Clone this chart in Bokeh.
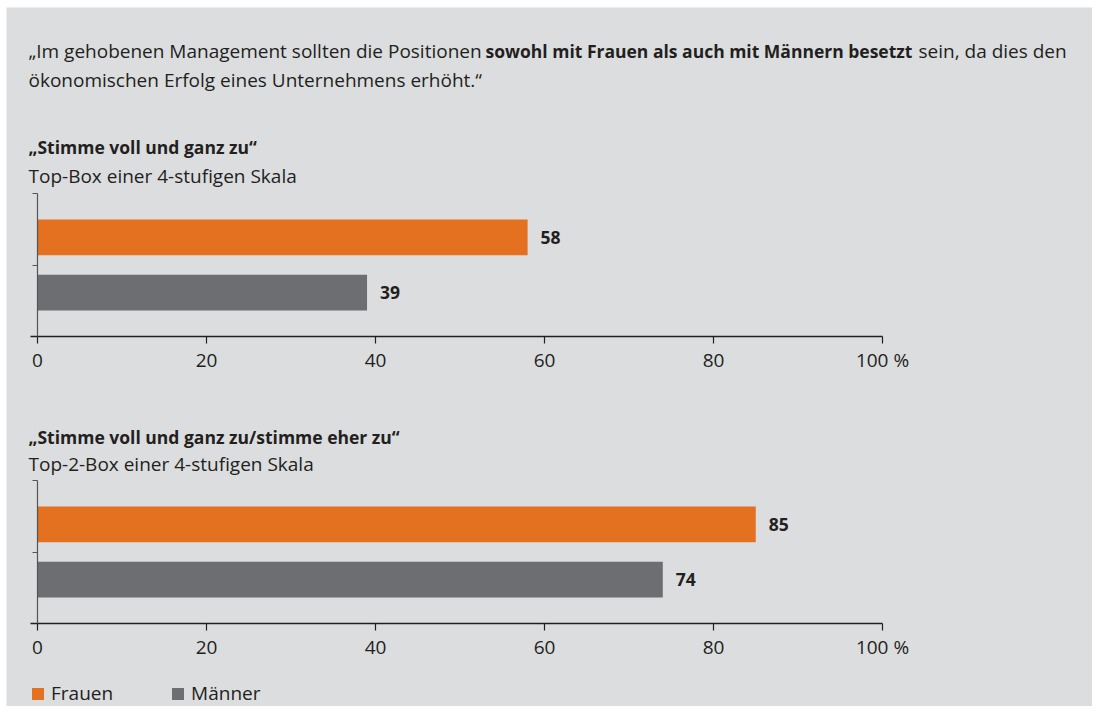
from bokeh.plotting import figure
from bokeh.models import Range1d, FixedTicker, ColumnDataSource, Legend, LegendItem, LinearAxis
from bokeh.core.properties import value
from bokeh.embed import file_html
from bokeh.resources import INLINE

# ---------------- data ----------------
intro_part1 = "„Im gehobenen Management sollten die Positionen"
intro_bold = "sowohl mit Frauen als auch mit Männern besetzt"
intro_part2 = "sein, da dies den"
intro_line2 = "ökonomischen Erfolg eines Unternehmens erhöht.“"

title1 = "„Stimme voll und ganz zu“"
subtitle1 = "Top-Box einer 4-stufigen Skala"
title2 = "„Stimme voll und ganz zu/stimme eher zu“"
subtitle2 = "Top-2-Box einer 4-stufigen Skala"

groups = ["Frauen", "Männer"]
top_box = [58, 39]
top2_box = [85, 74]
tick_values = [0, 20, 40, 60, 80, 100]
tick_labels = ["0", "20", "40", "60", "80", "100 %"]

# ---------------- style / layout ----------------
W, H = 1092, 706
PANEL_L, PANEL_T = 6, 7
BG = "#dcdddf"
TXT = "#231f20"
COLORS = ["#e3711f", "#6d6e71"]
FONT = "Open Sans"
FS_N = "19px"
FS_B = "17.5px"

PX_X = 8.45     # pixels per percent
PX_Y = 71.5     # pixels per category unit
X0 = 37         # canvas x of value 0


def cx(px):
    return (px - X0) / PX_X


def cy(py):
    return (H - py) / PX_Y


base1 = cy(336)   # baseline of upper chart
base2 = cy(623)   # baseline of lower chart

p = figure(width=W, height=H, x_range=Range1d(cx(PANEL_L), cx(W)),
           y_range=Range1d(0, cy(PANEL_T)),
           output_backend="svg", toolbar_location=None,
           min_border_left=PANEL_L, min_border_top=PANEL_T,
           min_border_right=0, min_border_bottom=0,
           x_axis_location=None, y_axis_location=None)
p.grid.visible = False
p.outline_line_color = None
p.background_fill_color = BG
p.border_fill_color = "white"


def put(x, y, t, bold=False):
    p.text(x=[cx(x)], y=[cy(y)], text=[t], text_font=value(FONT),
           text_font_size=FS_B if bold else FS_N,
           text_font_style="bold" if bold else "normal", text_color=TXT,
           text_baseline="alphabetic", text_align="left")


put(28, 50, intro_part1)
put(485, 50, intro_bold, bold=True)
put(918, 50, intro_part2)
put(28, 79, intro_line2)
put(28, 146, title1, bold=True)
put(28, 175, subtitle1)
put(28, 436, title2, bold=True)
put(28, 463, subtitle2)

renderers = []
for base, vals in [(base1, top_box), (base2, top2_box)]:
    src = ColumnDataSource(dict(
        g=groups, v=vals, y=[base + 1 + 0.385, base + 1 - 0.385], c=COLORS,
        lab=[str(v) for v in vals]))
    r = p.hbar(y="y", left=0, right="v", height=0.5, color="c",
               line_color=None, source=src)
    renderers.append(r)
    p.text(x="v", y="y", text="lab", source=src, x_offset=13,
           text_baseline="middle", text_font=value(FONT), text_font_size=FS_B,
           text_font_style="bold", text_color=TXT)

    xa = LinearAxis(fixed_location=base, bounds=(cx(30), 100),
                    ticker=FixedTicker(ticks=tick_values))
    xa.major_label_overrides = {v: l for v, l in zip(tick_values, tick_labels)}
    xa.minor_tick_line_color = None
    xa.major_tick_out = 7
    xa.major_tick_in = 0
    xa.axis_line_color = TXT
    xa.axis_line_width = 1.5
    xa.major_tick_line_color = TXT
    xa.major_tick_line_width = 1.2
    xa.major_label_standoff = 3
    xa.major_label_text_font = FONT
    xa.major_label_text_font_size = FS_N
    xa.major_label_text_color = TXT
    p.add_layout(xa, "below")

    ya = LinearAxis(fixed_location=0, bounds=(base, base + 2),
                    ticker=FixedTicker(ticks=[base + 1, base + 2]))
    ya.minor_tick_line_color = None
    ya.major_tick_out = 5
    ya.major_tick_in = 0
    ya.axis_line_color = "#555555"
    ya.major_tick_line_color = "#555555"
    ya.axis_line_width = 1.2
    ya.major_label_text_color = None
    p.add_layout(ya, "left")

items = [LegendItem(label=g, renderers=[renderers[1]], index=i) for i, g in enumerate(groups)]
lg = Legend(items=items, orientation="horizontal", location=(24, 0),
            glyph_width=15, glyph_height=15, label_standoff=6, spacing=57,
            padding=0, margin=0, border_line_color=None,
            background_fill_alpha=0, label_text_font=FONT,
            label_text_font_size=FS_N, label_text_color=TXT)
p.add_layout(lg, "center")

open("out.html", "w").write(file_html(p, INLINE))
